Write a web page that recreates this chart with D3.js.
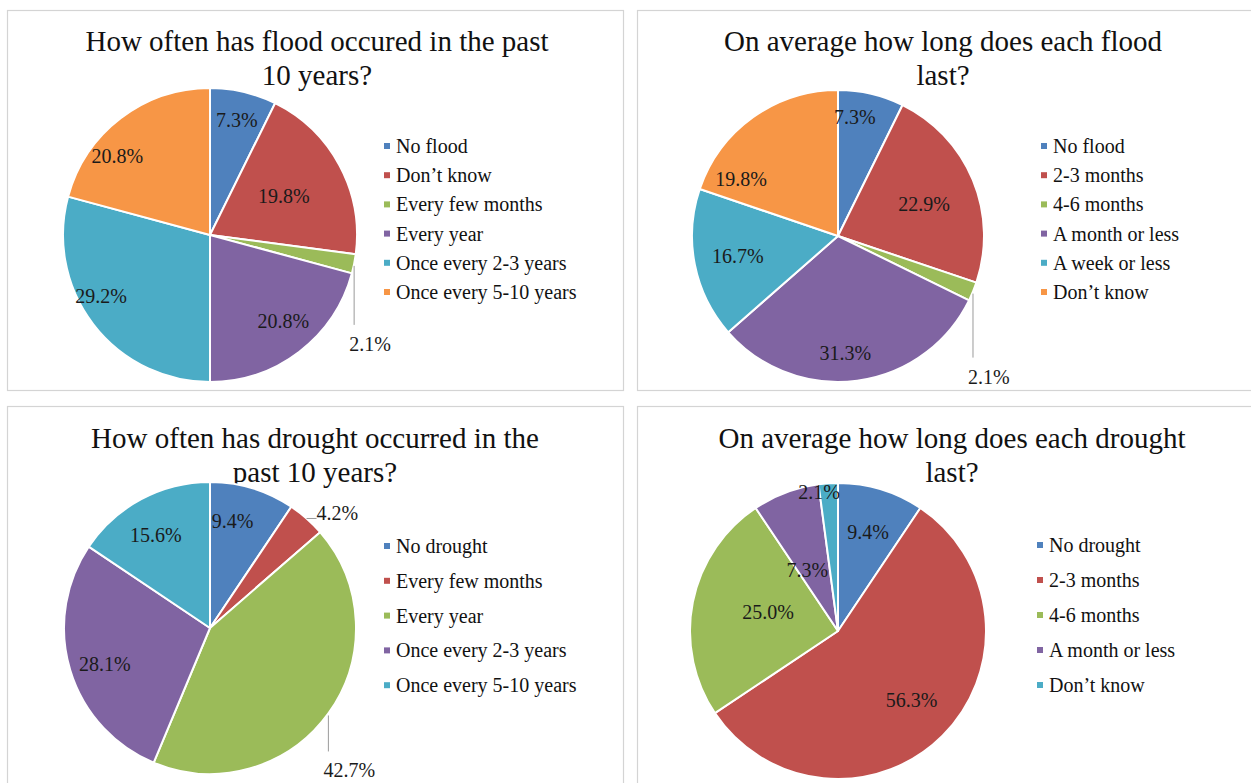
<!DOCTYPE html>
<html>
<head>
<meta charset="utf-8">
<script src="https://cdn.jsdelivr.net/npm/d3@7"></script>
<style>
  html, body { margin: 0; padding: 0; background: #fff; }
  svg { display: block; }
</style>
</head>
<body>
<svg id="chart" width="1251" height="783"></svg>
<script>
// ---------- DATA ----------
const floodFreqTitle = ["How often has flood occured in the past", "10 years?"];
const floodFreqCategories = ["No flood", "Don\u2019t know", "Every few months", "Every year", "Once every 2-3 years", "Once every 5-10 years"];
const floodFreqValues = [7.3, 19.8, 2.1, 20.8, 29.2, 20.8];

const floodDurTitle = ["On average how long does each flood", "last?"];
const floodDurCategories = ["No flood", "2-3 months", "4-6 months", "A month or less", "A week or less", "Don\u2019t know"];
const floodDurValues = [7.3, 22.9, 2.1, 31.3, 16.7, 19.8];

const droughtFreqTitle = ["How often has drought occurred in the", "past 10 years?"];
const droughtFreqCategories = ["No drought", "Every few months", "Every year", "Once every 2-3 years", "Once every 5-10 years"];
const droughtFreqValues = [9.4, 4.2, 42.7, 28.1, 15.6];

const droughtDurTitle = ["On average how long does each drought", "last?"];
const droughtDurCategories = ["No drought", "2-3 months", "4-6 months", "A month or less", "Don\u2019t know"];
const droughtDurValues = [9.4, 56.3, 25.0, 7.3, 2.1];

// ---------- STYLE / LAYOUT ----------
const FONT = "Liberation Serif, Times New Roman, serif";
const palette6 = ["#4F81BD", "#C0504D", "#9BBB59", "#8064A2", "#4BACC6", "#F79646"];

// label placement: da = angle nudge (deg) from slice middle, k = radius fraction; leader variants
const floodFreqLabelPlace = [{da:0,k:0.80},{da:0,k:0.57},{leader:"down",len:61},{da:-3,k:0.77},{da:8,k:0.85},{da:-12,k:0.83}];
const floodDurLabelPlace  = [{da:-5,k:0.82},{da:2,k:0.63},{leader:"down",len:66},{da:4,k:0.80},{da:0,k:0.70},{da:-24,k:0.77}];
const droughtFreqLabelPlace = [{da:-5,k:0.75},{leader:"side",len:10},{leader:"down",len:38},{da:-2,k:0.76},{da:-2,k:0.74}];
const droughtDurLabelPlace  = [{da:0,k:0.70},{da:-2,k:0.68},{da:4,k:0.49},{da:-6,k:0.46},{da:-4,k:0.95}];

const panels = [
  {x:7,   y:10,  w:616, h:380, title:floodFreqTitle,   tx:317, ty:51,  cx:210, cy:235, r:147,
   cats:floodFreqCategories,   vals:floodFreqValues,   place:floodFreqLabelPlace,   lx:387, ly:146, step:29.2},
  {x:637, y:10,  w:620, h:380, title:floodDurTitle,    tx:943, ty:51,  cx:838, cy:236, r:146,
   cats:floodDurCategories,    vals:floodDurValues,    place:floodDurLabelPlace,    lx:1044, ly:146, step:29.2},
  {x:7,   y:406, w:616, h:383, title:droughtFreqTitle, tx:315, ty:448, cx:210, cy:628, r:146,
   cats:droughtFreqCategories, vals:droughtFreqValues, place:droughtFreqLabelPlace, lx:387, ly:546, step:34.8},
  {x:637, y:406, w:620, h:383, title:droughtDurTitle,  tx:952, ty:448, cx:838, cy:631, r:148,
   cats:droughtDurCategories,  vals:droughtDurValues,  place:droughtDurLabelPlace,  lx:1040, ly:545, step:35}
];

// ---------- DRAW ----------
const svg = d3.select("#chart");
svg.append("rect").attr("width", 1251).attr("height", 783).attr("fill", "#fff");

panels.forEach(p => {
  const g = svg.append("g").attr("font-family", FONT);
  g.append("rect")
    .attr("x", p.x + 0.5).attr("y", p.y + 0.5)
    .attr("width", p.w).attr("height", p.h)
    .attr("fill", "#fff").attr("stroke", "#d4d4d4").attr("stroke-width", 1.2);

  // title
  p.title.forEach((line, i) => {
    g.append("text")
      .attr("x", p.tx).attr("y", p.ty + i * 33.5)
      .attr("text-anchor", "middle")
      .attr("font-family", FONT)
      .attr("font-size", 29).attr("fill", "#111")
      .text(line);
  });

  const color = d3.scaleOrdinal().domain(p.cats).range(palette6);
  const pie = d3.pie().sort(null).value(d => d.v);
  const data = p.cats.map((c, i) => ({c, v: p.vals[i], i}));
  const arcs = pie(data);
  const arc = d3.arc().innerRadius(0).outerRadius(p.r);

  const pg = g.append("g").attr("transform", `translate(${p.cx},${p.cy})`);
  pg.selectAll("path").data(arcs).join("path")
    .attr("d", arc)
    .attr("fill", d => color(d.data.c))
    .attr("stroke", "#fff").attr("stroke-width", 2).attr("stroke-linejoin", "round");

  // labels
  arcs.forEach((a, i) => {
    const pl = p.place[i];
    const mid = (a.startAngle + a.endAngle) / 2;
    const txt = d3.format(".1f")(a.data.v) + "%";
    if (pl.leader) {
      const ex = Math.sin(mid) * p.r, ey = -Math.cos(mid) * p.r;
      if (pl.leader === "down") {
        pg.append("line").attr("x1", ex).attr("y1", ey + 2).attr("x2", ex).attr("y2", ey + pl.len)
          .attr("stroke", "#9a9a9a").attr("stroke-width", 1);
        pg.append("text").attr("x", ex - 5).attr("y", ey + pl.len + 26)
          .attr("font-family", FONT)
          .attr("font-size", 20).attr("fill", "#1a1a1a").text(txt);
      } else {
        pg.append("line").attr("x1", ex).attr("y1", ey).attr("x2", ex + pl.len).attr("y2", ey)
          .attr("stroke", "#9a9a9a").attr("stroke-width", 1);
        pg.append("text").attr("x", ex + pl.len).attr("y", ey + 2)
          .attr("font-family", FONT)
          .attr("font-size", 20).attr("fill", "#1a1a1a").text(txt);
      }
    } else {
      const ang = mid + pl.da * Math.PI / 180;
      const rr = p.r * pl.k;
      pg.append("text")
        .attr("x", Math.sin(ang) * rr).attr("y", -Math.cos(ang) * rr)
        .attr("text-anchor", "middle").attr("dominant-baseline", "central")
        .attr("font-family", FONT)
        .attr("font-size", 20).attr("fill", "#1a1a1a").text(txt);
    }
  });

  // legend
  const lg = g.append("g");
  p.cats.forEach((c, i) => {
    const y = p.ly + i * p.step;
    lg.append("rect").attr("x", p.lx - 3).attr("y", y - 3).attr("width", 6).attr("height", 6)
      .attr("fill", color(c));
    lg.append("text").attr("x", p.lx + 9).attr("y", y).attr("dominant-baseline", "central")
      .attr("font-family", FONT)
      .attr("font-size", 20).attr("fill", "#111").text(c);
  });
});
</script>
</body>
</html>
